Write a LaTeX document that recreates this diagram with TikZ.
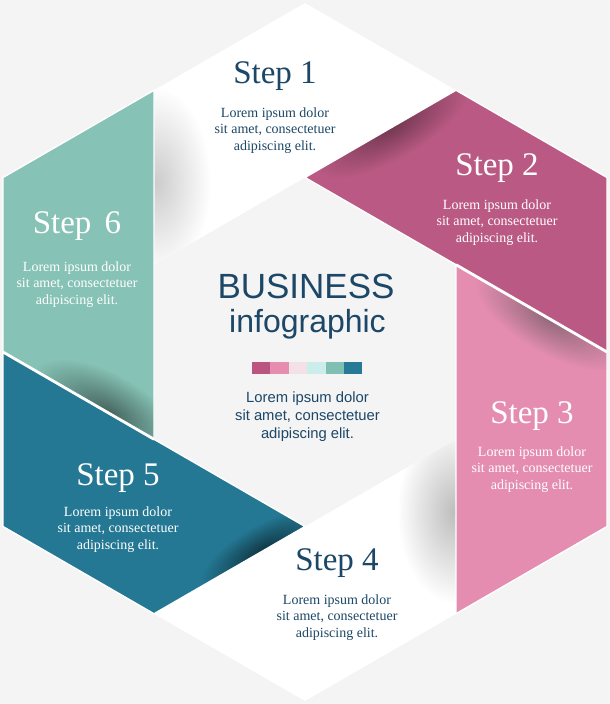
\documentclass[tikz,border=0pt]{standalone}
\usepackage{fontspec}
\setmainfont{Liberation Serif}
\newfontfamily\arialfont{Liberation Sans}
\definecolor{bgc}{HTML}{F4F4F5}
\definecolor{navy}{HTML}{1C4766}
\definecolor{ctwo}{HTML}{BA5A84}
\definecolor{cthree}{HTML}{E48DB0}
\definecolor{cfive}{HTML}{247894}
\definecolor{csix}{HTML}{86C2B5}
\definecolor{barA}{HTML}{B9557F}
\definecolor{barB}{HTML}{E58EB0}
\definecolor{barC}{HTML}{F2E2E8}
\definecolor{barD}{HTML}{CBEDEC}
\definecolor{barE}{HTML}{80C0B2}
\definecolor{barF}{HTML}{267A96}
\newcommand\titlefont{\fontsize{33}{40}\selectfont}
\newcommand\bodyfont{\fontsize{14}{16.7}\selectfont}
\newcommand\loremtxt{\begin{tabular}[t]{@{}c@{}}Lorem ipsum dolor\\sit amet, consectetuer\\adipiscing elit.\end{tabular}}
\begin{document}
\begin{tikzpicture}[x=1pt,y=-1pt,
  steptitle/.style={font=\titlefont, anchor=base, inner sep=0pt},
  bodytxt/.style={font=\bodyfont, anchor=base, inner sep=0pt},
  panel/.style={draw=white, line width=1.4pt, line join=miter},
  sep/.style={draw=white, line width=2.8pt},
  barbox/.style={minimum width=18.4pt, minimum height=12pt, inner sep=0pt, outer sep=0pt, anchor=north west}]
\useasboundingbox (0,0) rectangle (610,704);
\fill[bgc] (0,0) rectangle (610,704);
% outer hexagon
\coordinate (T) at (305,3);
\coordinate (UR) at (607,177.5);
\coordinate (LR) at (607,526.5);
\coordinate (B) at (305,701);
\coordinate (LL) at (3,526.5);
\coordinate (UL) at (3,177.5);
% mid points
\coordinate (MTR) at (456,90.25);
\coordinate (MR) at (607,352);
\coordinate (MBR) at (456,613.75);
\coordinate (MBL) at (154,613.75);
\coordinate (ML) at (3,352);
\coordinate (MTL) at (154,90.25);
% inner hexagon
\coordinate (iT) at (305,177.5);
\coordinate (iUR) at (456,264.75);
\coordinate (iLR) at (456,439.25);
\coordinate (iB) at (305,526.5);
\coordinate (iLL) at (154,439.25);
\coordinate (iUL) at (154,264.75);
% centre
\fill[bgc] (iT) -- (iUR) -- (iLR) -- (iB) -- (iLL) -- (iUL) -- cycle;
% panel 1 (white)
\fill[white] (iUL) -- (MTL) -- (T) -- (MTR) -- (iT) -- cycle;
\begin{scope}
\clip (iUL) -- (MTL) -- (T) -- (MTR) -- (iT) -- cycle;
\begin{scope}[transform canvas={shift={(156,182)}}]
\shade[inner color=black!20, outer color=white] (0,0) ellipse (55 and 95);
\end{scope}
\end{scope}
% panel 4 (white)
\fill[white] (iLR) -- (MBR) -- (B) -- (MBL) -- (iB) -- cycle;
\begin{scope}
\clip (iLR) -- (MBR) -- (B) -- (MBL) -- (iB) -- cycle;
\begin{scope}[transform canvas={shift={(455,512)}}]
\shade[inner color=black!26, outer color=white] (0,0) ellipse (58 and 92);
\end{scope}
\end{scope}
% panel 2
\fill[ctwo] (iT) -- (MTR) -- (UR) -- (MR) -- (iUR) -- cycle;
\begin{scope}
\clip (iT) -- (MTR) -- (UR) -- (MR) -- (iUR) -- cycle;
\begin{scope}[transform canvas={shift={(392,127)}, rotate=30}]
\shade[inner color=ctwo!62!black, outer color=ctwo] (0,0) ellipse (88 and 32);
\end{scope}
\end{scope}
\path[panel] (iT) -- (MTR) -- (UR) -- (MR) -- (iUR) -- cycle;
% panel 3
\fill[cthree] (iUR) -- (MR) -- (LR) -- (MBR) -- (iLR) -- cycle;
\begin{scope}
\clip (iUR) -- (MR) -- (LR) -- (MBR) -- (iLR) -- cycle;
\begin{scope}[transform canvas={shift={(550,319)}, rotate=-30}]
\shade[inner color=cthree!55!black!85, outer color=cthree] (0,0) ellipse (85 and 34);
\end{scope}
\end{scope}
\path[panel] (iUR) -- (MR) -- (LR) -- (MBR) -- (iLR) -- cycle;
% panel 5
\fill[cfive] (iB) -- (MBL) -- (LL) -- (ML) -- (iLL) -- cycle;
\begin{scope}
\clip (iB) -- (MBL) -- (LL) -- (ML) -- (iLL) -- cycle;
\begin{scope}[transform canvas={shift={(262,551)}, rotate=30}]
\shade[inner color=cfive!45!black, outer color=cfive] (0,0) ellipse (70 and 26);
\end{scope}
\end{scope}
\path[panel] (iB) -- (MBL) -- (LL) -- (ML) -- (iLL) -- cycle;
% panel 6
\fill[csix] (iLL) -- (ML) -- (UL) -- (MTL) -- (iUL) -- cycle;
\begin{scope}
\clip (iLL) -- (ML) -- (UL) -- (MTL) -- (iUL) -- cycle;
\begin{scope}[transform canvas={shift={(108,412)}, rotate=-30}]
\shade[inner color=csix!52!black, outer color=csix] (0,0) ellipse (85 and 38);
\end{scope}
\end{scope}
\path[panel] (iLL) -- (ML) -- (UL) -- (MTL) -- (iUL) -- cycle;
% separators
\draw[sep] (iUR) -- (MR);
\draw[sep] (ML) -- (iLL);
% step texts
\node[steptitle, text=navy] (s1t) at (275,83) {Step 1};
\node[bodytxt, text=navy] (s1b) at (275,117) {\loremtxt};
\node[steptitle, text=white] (s2t) at (497,175) {Step 2};
\node[bodytxt, text=white] (s2b) at (497,209) {\loremtxt};
\node[steptitle, text=white] (s3t) at (532,423) {Step 3};
\node[bodytxt, text=white] (s3b) at (532,456) {\loremtxt};
\node[steptitle, text=navy] (s4t) at (337,570) {Step 4};
\node[bodytxt, text=navy] (s4b) at (337,604) {\loremtxt};
\node[steptitle, text=white] (s5t) at (118,485) {Step 5};
\node[bodytxt, text=white] (s5b) at (118,516) {\loremtxt};
\node[steptitle, text=white] (s6t) at (77,233) {Step\hspace{0.4em}6};
\node[bodytxt, text=white] (s6b) at (77,271) {\loremtxt};
% centre texts
\node[anchor=base, inner sep=0pt, text=navy, font=\arialfont\fontsize{35}{40}\selectfont] (biz) at (306,298) {BUSINESS};
\node[anchor=base, inner sep=0pt, text=navy, font=\arialfont\fontsize{32}{38}\selectfont] (info) at (307.5,332) {infographic};
\node[barbox, fill=barA] (b1) at (252,362) {};
\node[barbox, fill=barB] (b2) at (270.4,362) {};
\node[barbox, fill=barC] (b3) at (288.8,362) {};
\node[barbox, fill=barD] (b4) at (307.2,362) {};
\node[barbox, fill=barE] (b5) at (325.6,362) {};
\node[barbox, fill=barF] (b6) at (344,362) {};
\node[anchor=base, inner sep=0pt, text=navy, font=\arialfont\fontsize{14.8}{18}\selectfont] (cb) at (307.5,402) {\begin{tabular}[t]{@{}c@{}}Lorem ipsum dolor\\sit amet, consectetuer\\adipiscing elit.\end{tabular}};
\end{tikzpicture}
\end{document}
